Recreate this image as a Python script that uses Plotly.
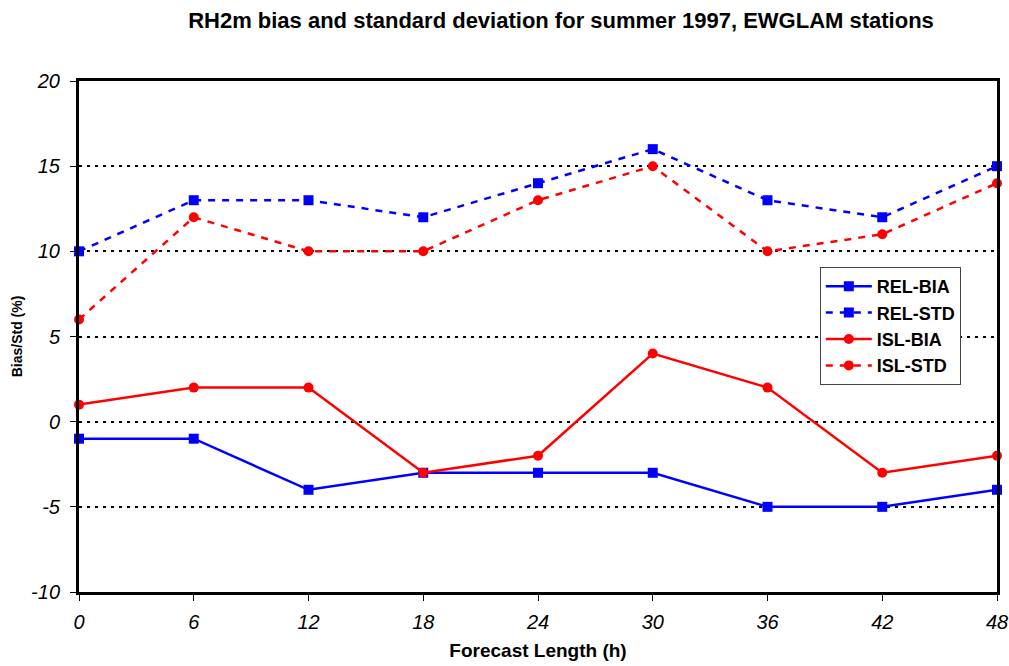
import plotly.graph_objects as go

hours = [0, 6, 12, 18, 24, 30, 36, 42, 48]
rel_bia = [-1, -1, -4, -3, -3, -3, -5, -5, -4]
rel_std = [10, 13, 13, 12, 14, 16, 13, 12, 15]
isl_bia = [1, 2, 2, -3, -2, 4, 2, -3, -2]
isl_std = [6, 12, 10, 10, 13, 15, 10, 11, 14]

BLUE = "#0000FF"
RED = "#FF0000"
FONT = "Liberation Sans"

fig = go.Figure()
series = [
    ("REL-BIA", rel_bia, BLUE, "solid", "square"),
    ("REL-STD", rel_std, BLUE, "7px,7px", "square"),
    ("ISL-BIA", isl_bia, RED, "solid", "circle"),
    ("ISL-STD", isl_std, RED, "7px,7px", "circle"),
]
for name, vals, col, dash, sym in series:
    fig.add_trace(go.Scatter(
        x=hours, y=vals, name=name, mode="lines+markers",
        line=dict(color=col, width=2.5, dash=dash),
        marker=dict(symbol=sym, size=10, color=col),
        cliponaxis=False,
    ))

fig.update_layout(
    width=1009, height=666,
    paper_bgcolor="white", plot_bgcolor="white",
    margin=dict(l=79, r=12, t=81, b=74),
    title=dict(text="<b>RH2m bias and standard deviation for summer 1997, EWGLAM stations</b>",
               xref="container", x=0.556, xanchor="center", y=0.97, yanchor="middle",
               font=dict(family=FONT, size=22, color="black"), automargin=False),
    font=dict(family=FONT, color="black"),
    showlegend=True,
    legend=dict(x=0.807, y=0.636, xanchor="left", yanchor="top",
                bgcolor="white", bordercolor="#444444", borderwidth=1,
                font=dict(family=FONT, size=18, color="black", weight="bold"),
                tracegroupgap=0, itemwidth=46),
)
fig.update_xaxes(
    range=[0, 48], tickvals=hours, ticktext=[f"<i>{h}</i>" for h in hours],
    ticks="outside", ticklen=6, tickwidth=1, tickcolor="black",
    showline=True, linecolor="black", linewidth=3, mirror=True,
    showgrid=False, zeroline=False, automargin=False,
    tickfont=dict(family=FONT, size=20, color="black"),
    ticklabelstandoff=4,
    title=dict(text="<b>Forecast Length (h)</b>", font=dict(family=FONT, size=19, color="black"), standoff=12),
)
fig.update_yaxes(
    range=[-10, 20], tickvals=[-10, -5, 0, 5, 10, 15, 20],
    ticktext=[f"<i>{v}</i>" for v in [-10, -5, 0, 5, 10, 15, 20]],
    ticks="outside", ticklen=6, tickwidth=1, tickcolor="black",
    showline=True, linecolor="black", linewidth=3, mirror=True,
    showgrid=True, gridcolor="black", gridwidth=1.5, griddash="3px,5px",
    zeroline=False, automargin=False,
    tickfont=dict(family=FONT, size=20, color="black"),
    ticklabelstandoff=6,
    title=dict(text="<b>Bias/Std (%)</b>", font=dict(family=FONT, size=14, color="black"), standoff=6),
)

fig.write_html("out.html", config={"displayModeBar": False},
               post_script="document.body.style.margin='0px';document.body.style.padding='0px';")
